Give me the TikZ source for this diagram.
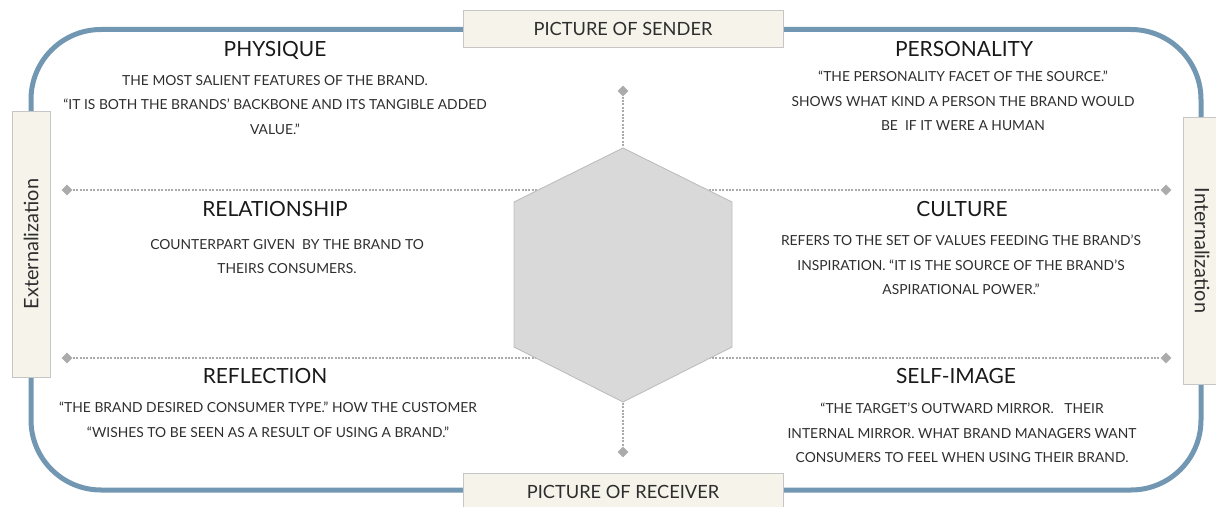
\documentclass[tikz,border=0pt]{standalone}
\usepackage{fontspec}
\setmainfont{Lato}
\usetikzlibrary{positioning, shapes.geometric}
\definecolor{frameblue}{HTML}{7297B2}
\definecolor{boxcream}{HTML}{F6F4EA}
\definecolor{boxedge}{HTML}{C6C6C6}
\definecolor{dotgrey}{HTML}{ABABAB}
\definecolor{hexgrey}{HTML}{D9D9D9}
\definecolor{inkgrey}{HTML}{2E2E2E}

\begin{document}
\begin{tikzpicture}[
      x=1bp, y=-1bp,
      every node/.style={text=inkgrey, inner sep=0pt},
      facettitle/.style={font=\fontsize{21}{24}\selectfont, text=black!90, anchor=base},
      facettext/.style={font=\fontsize{13.9}{24.5}\selectfont, align=center, anchor=north},
      sidebox/.style={draw=boxedge, fill=boxcream, line width=0.8bp, font=\fontsize{18.3}{20}\selectfont},
      axistip/.style={diamond, fill=dotgrey, minimum size=11bp},
      axisline/.style={dotgrey, line width=2bp, dash pattern=on 2bp off 1.4bp},
    ]
    \useasboundingbox (0,0) rectangle (1216,507);

    % outer frame
    \draw[frameblue, line width=5bp, rounded corners=70bp] (31,29.5) rectangle (1201,490);

    % dotted axes and the prism
    \node[axistip] (tipn) at (623,91) {};
    \node[axistip] (tips) at (623,452) {};
    \node[axistip] (tipwu) at (67,190) {};
    \node[axistip] (tipeu) at (1166,190) {};
    \node[axistip] (tipwl) at (67,358) {};
    \node[axistip] (tipel) at (1166,358) {};
    \draw[axisline] (tipn) -- (tips);
    \draw[axisline] (tipwu) -- (tipeu);
    \draw[axisline] (tipwl) -- (tipel);
    \draw[fill=hexgrey, draw=black!26, line width=0.9bp]
      (623,148) -- (732,202) -- (732,347) -- (623,402) -- (514,347) -- (514,202) -- cycle;

    % the four sides
    \node[sidebox, minimum width=320bp, minimum height=37bp] (sender) at (623,28.5) {PICTURE OF SENDER};
    \node[sidebox, minimum width=320bp, minimum height=37bp] (receiver) at (623,491.5) {PICTURE OF RECEIVER};
    \node[sidebox, font=\fontsize{20}{22}\selectfont, minimum width=266bp, minimum height=38bp, rotate=90] (extern) at (31,244) {Externalization};
    \node[sidebox, font=\fontsize{20}{22}\selectfont, minimum width=267bp, minimum height=38bp, rotate=-90] (intern) at (1202,250.5) {Internalization};

    % facets
    \node[facettitle] (physique) at (275,57) {PHYSIQUE};
    \node[facettext] (physiquenote) at (275,75) {THE MOST SALIENT FEATURES OF THE BRAND.\\
      “IT IS BOTH THE BRANDS’ BACKBONE AND ITS TANGIBLE ADDED\\ VALUE.”};
    \node[facettitle] (personality) at (964,57) {PERSONALITY};
    \node[facettext] (personalitynote) at (963,71) {“THE PERSONALITY FACET OF THE SOURCE.”\\
      SHOWS WHAT KIND A PERSON THE BRAND WOULD\\ BE\ \ IF IT WERE A HUMAN};
    \node[facettitle] (relationship) at (275,217) {RELATIONSHIP};
    \node[facettext] (relationshipnote) at (287,239) {COUNTERPART GIVEN\ \ BY THE BRAND TO\\ THEIRS CONSUMERS.};
    \node[facettitle] (culture) at (962,217) {CULTURE};
    \node[facettext] (culturenote) at (961,235) {REFERS TO THE SET OF VALUES FEEDING THE BRAND’S\\
      INSPIRATION.\ “IT IS THE SOURCE OF THE BRAND’S\\ ASPIRATIONAL POWER.”};
    \node[facettitle] (reflection) at (265,384) {REFLECTION};
    \node[facettext] (reflectionnote) at (268,402) {“THE BRAND DESIRED CONSUMER TYPE.” HOW THE CUSTOMER\\
      “WISHES TO BE SEEN AS A RESULT OF USING A BRAND.”};
    \node[facettitle] (selfimage) at (956,384) {SELF-IMAGE};
    \node[facettext] (selfimagenote) at (962,403) {“THE TARGET’S OUTWARD MIRROR.\ \ \ THEIR\\
      INTERNAL MIRROR. WHAT BRAND MANAGERS WANT\\ CONSUMERS TO FEEL WHEN USING THEIR BRAND.};
  \end{tikzpicture}
\end{document}
